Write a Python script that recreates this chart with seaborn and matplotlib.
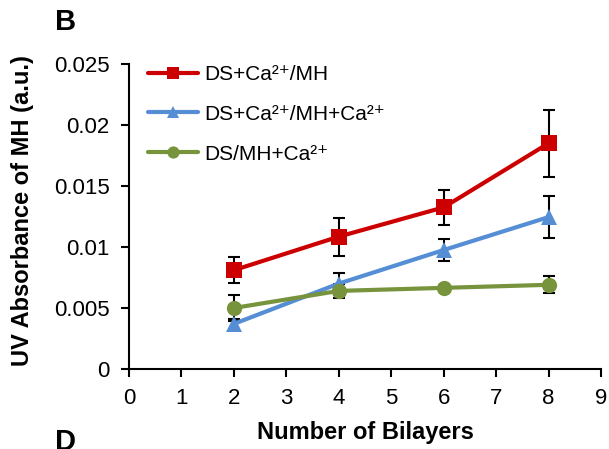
import matplotlib
matplotlib.use("Agg")
import matplotlib.pyplot as plt
import seaborn as sns
import pandas as pd

# Measured absorbance of MH vs. number of bilayers
bilayers = [2, 4, 6, 8]
series_names = ["DS+Ca²⁺/MH", "DS+Ca²⁺/MH+Ca²⁺", "DS/MH+Ca²⁺"]
absorbance_red = [0.0081, 0.01085, 0.01325, 0.0185]
absorbance_blue = [0.0037, 0.0070, 0.00975, 0.01245]
absorbance_green = [0.0050, 0.0064, 0.00665, 0.0069]
error_red = [0.00107, 0.00155, 0.00143, 0.00275]
error_blue = [0.0004, 0.0009, 0.00088, 0.0017]
error_green = [0.0011, 0.0006, 0.0002, 0.0007]

x_ticks = list(range(0, 10))
y_ticks = [0, 0.005, 0.01, 0.015, 0.02, 0.025]
y_tick_labels = ["0", "0.005", "0.01", "0.015", "0.02", "0.025"]

colors = {series_names[0]: "#CC0000", series_names[1]: "#558ED5", series_names[2]: "#77933C"}
markers = {series_names[0]: "s", series_names[1]: "^", series_names[2]: "o"}

values = [absorbance_red, absorbance_blue, absorbance_green]
errors = [error_red, error_blue, error_green]
rows = []
for name, vals, errs in zip(series_names, values, errors):
    for b, v, e in zip(bilayers, vals, errs):
        rows.append({"Bilayers": b, "Absorbance": v, "Error": e, "Series": name})
df = pd.DataFrame(rows)

sns.set_style("white")
plt.rcParams["font.family"] = ["Liberation Sans", "DejaVu Sans"]
plt.rcParams["text.color"] = "black"
plt.rcParams["axes.labelcolor"] = "black"

fig = plt.figure(figsize=(6.09, 4.49), dpi=100)
ax = fig.add_axes([0.2118, 0.1782, 0.7751, 0.6793])

# error bars underneath the markers
for name in series_names:
    sub = df[df["Series"] == name]
    ax.errorbar(sub["Bilayers"], sub["Absorbance"], yerr=sub["Error"], fmt="none",
                ecolor="black", elinewidth=1.5, capsize=4.2, capthick=1.5, zorder=1)

sns.lineplot(data=df, x="Bilayers", y="Absorbance", hue="Series", style="Series",
             palette=colors, markers=markers, dashes=False, hue_order=series_names,
             style_order=series_names, linewidth=3, markersize=11, markeredgewidth=0,
             ax=ax, zorder=3, legend=True)

handles, labels = ax.get_legend_handles_labels()
leg = ax.legend(handles, labels, loc="upper left", bbox_to_anchor=(0.0095, 1.045),
                frameon=False, fontsize=15, handlelength=2.4, handletextpad=0.3,
                labelspacing=1.0, borderaxespad=0.3, markerscale=0.8)
for t in leg.get_texts():
    t.set_color("black")

ax.set_xlim(0, 9)
ax.set_ylim(0, 0.025)
ax.set_xticks(x_ticks)
ax.set_xticklabels([str(t) for t in x_ticks])
ax.set_yticks(y_ticks)
ax.set_yticklabels(y_tick_labels)
ax.tick_params(axis="both", direction="out", length=6, width=1.5, labelsize=16,
               color="black", labelcolor="black", bottom=True, left=True, pad=8)
for side in ["top", "right"]:
    ax.spines[side].set_visible(False)
for side in ["left", "bottom"]:
    ax.spines[side].set_color("black")
    ax.spines[side].set_linewidth(1.5)

ax.set_xlabel("Number of Bilayers", fontsize=17, fontweight="bold", labelpad=8, color="black")
ax.set_ylabel("UV Absorbance of MH (a.u.)", fontsize=17, fontweight="bold", labelpad=14,
              color="black")
ax.yaxis.label.set_y(0.521)

fig.text(0.090, 0.951, "B", fontsize=21, fontweight="bold", ha="left", va="center",
         color="black")
fig.text(0.090, 0.0457, "D", fontsize=21, fontweight="bold", ha="left", va="top",
         color="black")

fig.savefig("out.png", dpi=100)
